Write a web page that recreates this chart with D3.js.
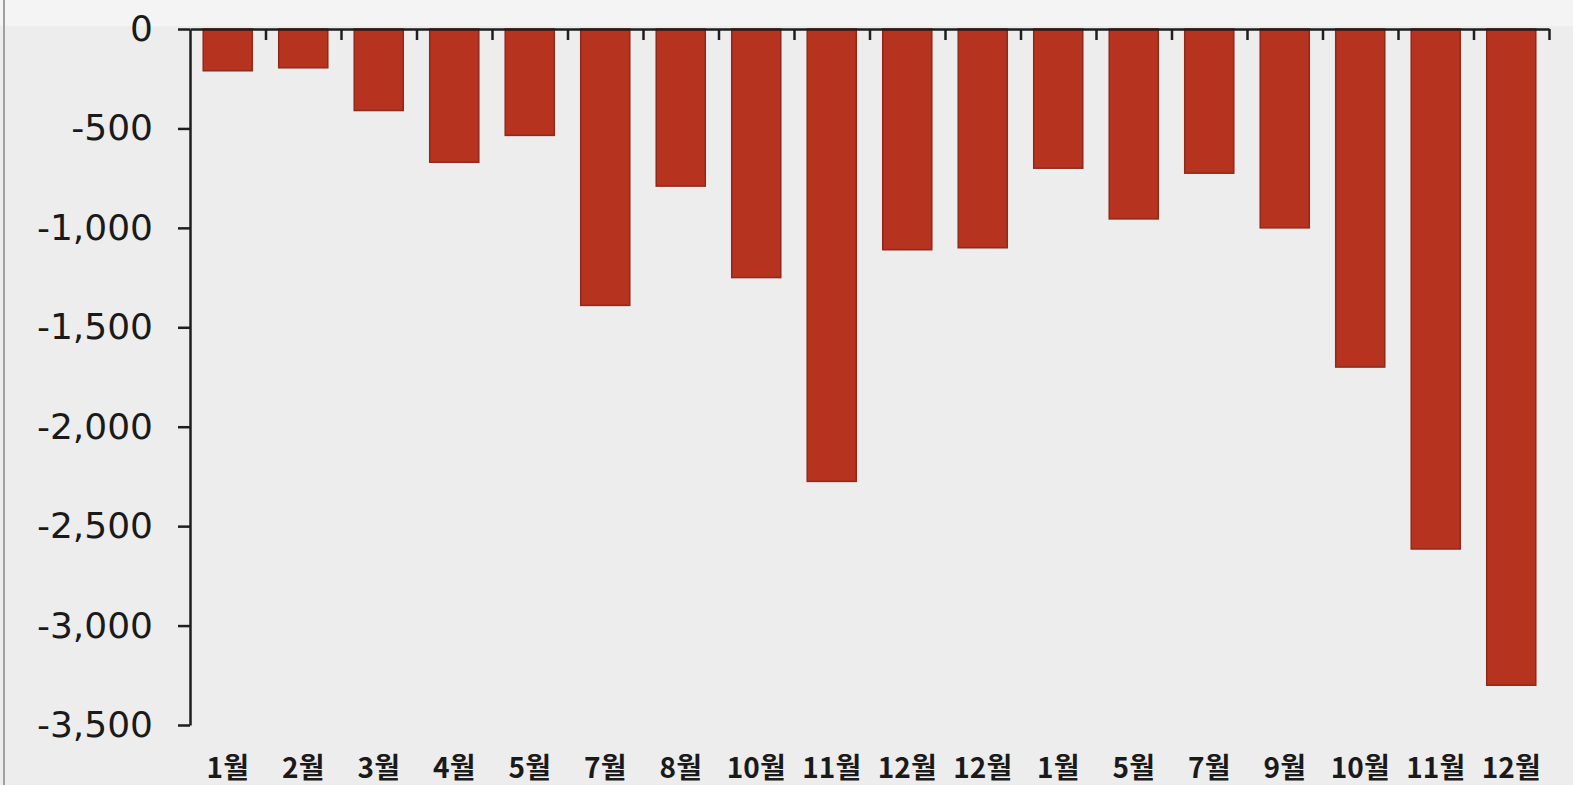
<!DOCTYPE html>
<html>
<head>
<meta charset="utf-8">
<script src="https://cdn.jsdelivr.net/npm/d3@7/dist/d3.min.js"></script>
<style>
  html, body { margin: 0; padding: 0; background: #eeeeee; }
  svg { display: block; }
  .axis path, .axis line { stroke: #1e1e1e; stroke-width: 2.5px; }
  .y-axis text { font-family: "DejaVu Sans", sans-serif; font-size: 36px; fill: #1a1a1a; }
  .month-label { font-family: "Noto Sans CJK KR", sans-serif; font-weight: 700; font-size: 28px; fill: #1a1a1a; }
</style>
</head>
<body>
<svg id="chart" width="1573" height="785"></svg>
<script>
const months = ['1월', '2월', '3월', '4월', '5월', '7월', '8월', '10월', '11월', '12월',
  '12월', '1월', '5월', '7월', '9월', '10월', '11월', '12월'];
const values = [-210, -195, -410, -670, -535, -1390, -790, -1250, -2275, -1110,
  -1100, -700, -955, -725, -1000, -1700, -2615, -3300];
const yTicks = [0, -500, -1000, -1500, -2000, -2500, -3000, -3500];
const yTickLabels = ['0', '-500', '-1,000', '-1,500', '-2,000', '-2,500', '-3,000', '-3,500'];

const svg = d3.select('#chart');
const width = 1573;
const height = 785;
const plot = { left: 190, right: 1549, top: 29, bottom: 725 };

// top strip and left border of the original screenshot
svg.append('rect').attr('x', 0).attr('y', 0).attr('width', width).attr('height', height).attr('fill', '#ededed');
svg.append('rect').attr('x', 0).attr('y', 0).attr('width', width).attr('height', 26).attr('fill', '#f4f4f4');
svg.append('line').attr('x1', 4).attr('x2', 4).attr('y1', 0).attr('y2', height)
  .attr('stroke', '#a0a0a0').attr('stroke-width', 2);

const x = d3.scaleBand()
  .domain(d3.range(months.length))
  .range([plot.left, plot.right])
  .paddingInner(0.35)
  .paddingOuter(0.175);

const slots = d3.scaleLinear().domain([0, months.length]).range([plot.left, plot.right]);

const y = d3.scaleLinear().domain([0, -3500]).range([plot.top, plot.bottom]);

svg.append('g')
  .selectAll('rect')
  .data(values)
  .join('rect')
  .attr('x', (d, i) => x(i))
  .attr('width', x.bandwidth())
  .attr('y', y(0))
  .attr('height', (d) => y(d) - y(0))
  .attr('fill', '#b5331f')
  .attr('stroke', '#8f2a1b')
  .attr('stroke-width', 1.5);

// zero line on top with tick marks between the bars
svg.append('g')
  .attr('class', 'axis')
  .attr('transform', `translate(0, ${y(0)})`)
  .call(d3.axisBottom(slots).tickValues(d3.range(1, months.length + 1)).tickSize(11).tickSizeOuter(0).tickFormat(''));

svg.append('g')
  .attr('class', 'axis y-axis')
  .attr('transform', `translate(${plot.left}, 0)`)
  .call(d3.axisLeft(y).tickValues(yTicks).tickSize(12).tickSizeOuter(0)
    .tickFormat((d, i) => yTickLabels[i]))
  .call((g) => g.selectAll('text').attr('x', -37));

svg.append('g')
  .selectAll('text')
  .data(months)
  .join('text')
  .attr('class', 'month-label')
  .attr('x', (d, i) => x(i) + x.bandwidth() / 2)
  .attr('y', 778)
  .attr('text-anchor', 'middle')
  .text((d) => d);
</script>
</body>
</html>
